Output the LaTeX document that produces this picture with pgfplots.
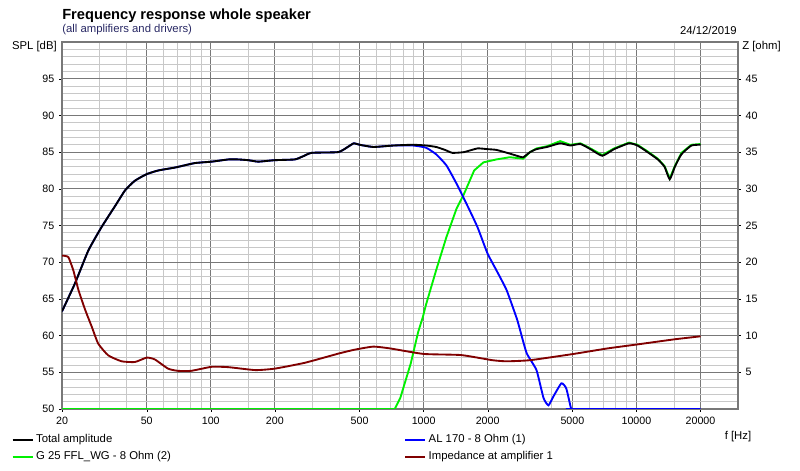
\documentclass[border=0pt]{standalone}
\usepackage{pgfplots}
\pgfplotsset{compat=1.18}
\usepackage{fontspec}
\setmainfont{Liberation Sans}
\definecolor{majgrid}{RGB}{120,120,120}
\definecolor{mingrid}{RGB}{200,200,200}
\definecolor{cgreen}{RGB}{0,240,0}
\definecolor{cblue}{RGB}{0,0,255}
\definecolor{cred}{RGB}{128,0,0}
\definecolor{subt}{RGB}{40,40,100}
\pgfplotsset{/pgf/number format/assume math mode=true}
\pgfplotsset{legend image code/.code={\draw[#1] (0pt,0pt) -- (15pt,0pt);}}
\begin{document}
\begin{tikzpicture}
\useasboundingbox (0,0) rectangle (600pt,353.25pt);
\begin{axis}[
  scale only axis, width=507pt, height=275.25pt,
  at={(46.5pt,46.5pt)}, anchor=south west,
  xmode=log, xmin=20, xmax=30000,
  ymin=50, ymax=100,
  tick label style={font=\fontsize{8}{9.6}\selectfont},
  tick align=outside, major tick length=2.25pt, minor tick length=0pt,
  ytick={50,55,...,95}, minor ytick={51,52,53,54,56,57,58,59,61,62,63,64,66,67,68,69,71,72,73,74,76,77,78,79,81,82,83,84,86,87,88,89,91,92,93,94,96,97,98,99},
  xtick={20,50,100,200,500,1000,2000,5000,10000,20000},
  xticklabels={20,50,100,200,500,1000,2000,5000,10000,20000},
  minor xtick={30,40,60,70,80,90,150,300,400,600,700,800,900,1500,3000,4000,6000,7000,8000,9000,15000},
  xtick pos=bottom, ytick pos=left,
  grid=both,
  major grid style={majgrid, line width=0.9pt},
  minor grid style={mingrid, line width=0.6pt},
  axis line style={majgrid, line width=0.9pt},
  tick style={black},
  legend columns=2, transpose legend,
  legend style={at={(-0.075,-0.062)}, anchor=north west, draw=none, fill=none,
    font=\fontsize{8.5}{10}\selectfont, inner sep=0pt, row sep=1pt,
    /tikz/every even column/.append style={column sep=173pt}},
  legend cell align=left,
]
\addplot[cgreen, line width=1.4pt, forget plot] coordinates {
(20,50) (732,50) (777,51.5) (870,56.2) (943,60.5) (991,62.5) (1026,64.2) (1145,68.9) (1279,73.4) (1428,77.3) (1548,79.3) (1728,82.5) (1910,83.6) (2198,84.0) (2537,84.3) (2935,84.1) (3164,85.0) (3391,85.5) (3800,85.8) (4384,86.5) (4892,86.0) (5455,86.2) (6082,85.5) (6909,84.6) (7847,85.5) (9226,86.3) (10107,86.0) (11276,85.1) (12603,84.1) (13552,83.1) (14330,81.4) (15152,83.1) (16265,84.9) (18130,86.0) (20000,86.1)
};
\addplot[cblue, line width=1.4pt, smooth, tension=0.3, forget plot] coordinates {
(20,63.3) (23,67.1) (26.6,71.6) (30.7,74.8) (35.6,77.7) (39.6,79.8) (44,81.1) (50,82.0) (56.7,82.5) (68,82.9) (84,83.5) (101,83.7) (121,84.0) (134,84.0) (150,83.9) (167,83.7) (200,83.9) (248,84.0) (270,84.4) (298,84.9) (397,85.0) (440,85.7) (470,86.2) (500,86.0) (581,85.7) (724,85.9) (889,85.9) (1026,85.6) (1145,84.7) (1279,83.2) (1428,80.7) (1594,77.9) (1790,74.8) (1996,71.2) (2198,68.9) (2454,66.2) (2742,62.3) (2843,60.7) (3050,57.6) (3391,55.3) (3660,51.5) (3860,50.5) (4070,51.7) (4440,53.5) (4680,52.8) (4925,50.1) (5000,50) (20000,50)
};
\addplot[black, line width=1.4pt, smooth, tension=0.3, forget plot] coordinates {
(20,63.3) (23,67.1) (26.6,71.6) (30.7,74.8) (35.6,77.7) (39.6,79.8) (44,81.1) (50,82.0) (56.7,82.5) (68,82.9) (84,83.5) (101,83.7) (121,84.0) (134,84.0) (150,83.9) (167,83.7) (200,83.9) (248,84.0) (270,84.4) (298,84.9) (397,85.0) (440,85.7) (470,86.2) (500,86.0) (581,85.7) (724,85.9) (889,86.0) (1026,85.9) (1145,85.7) (1260,85.3) (1365,84.9) (1548,85.0) (1790,85.5) (2000,85.4) (2198,85.3) (2537,84.8) (2742,84.5) (2935,84.3) (3164,85.0) (3391,85.4) (3800,85.7) (4384,86.2) (4892,85.9) (5455,86.1) (6082,85.4) (6909,84.5) (7847,85.4) (9226,86.2) (10107,85.9) (11276,85.0) (12603,84.0) (13552,83.0) (14330,81.3) (15152,83.0) (16265,84.7) (18130,85.9) (20000,86.0)
};
\addlegendimage{black, line width=1.4pt}
\addlegendentry{Total amplitude}
\addlegendimage{cgreen, line width=1.4pt}
\addlegendentry{G 25 FFL\_WG - 8 Ohm (2)}
\addlegendimage{cblue, line width=1.4pt}
\addlegendentry{AL 170 - 8 Ohm (1)}
\addlegendimage{cred, line width=1.4pt}
\addlegendentry{Impedance at amplifier 1}
\end{axis}
\begin{axis}[
  scale only axis, width=507pt, height=275.25pt,
  at={(46.5pt,46.5pt)}, anchor=south west,
  xmode=log, xmin=20, xmax=30000,
  ymin=0, ymax=50,
  tick label style={font=\fontsize{8}{9.6}\selectfont},
  tick align=outside, major tick length=2.25pt, minor tick length=0pt,
  axis y line*=right, axis x line=none,
  ytick={5,10,...,45},
  axis line style={majgrid, line width=0.9pt},
  tick style={black},
]
\addplot[cred, line width=1.4pt, smooth, tension=0.3] coordinates {
(20,20.9) (21.4,20.7) (22.6,18.9) (23.9,16.2) (25.7,13.5) (27.6,11.2) (29.6,8.9) (33,7.3) (38.1,6.5) (44,6.4) (50,7.0) (54.6,6.75) (63,5.5) (70,5.2) (81,5.2) (101,5.75) (121,5.7) (162,5.3) (200,5.5) (277,6.3) (404,7.6) (478,8.1) (581,8.5) (697,8.25) (1000,7.5) (1500,7.35) (2103,6.65) (2454,6.5) (3164,6.65) (5060,7.5) (7300,8.25) (10107,8.8) (15150,9.5) (20000,9.9)
};
\end{axis}
\node[anchor=west, inner sep=0pt, font=\bfseries\fontsize{11}{13}\selectfont] at (46.5pt,341.5pt) {Frequency response whole speaker};
\node[anchor=west, inner sep=0pt, font=\fontsize{8.5}{10}\selectfont, text=subt] at (46.5pt,330.75pt) {(all amplifiers and drivers)};
\node[anchor=east, inner sep=0pt, font=\fontsize{8.5}{10}\selectfont] at (552.75pt,330.75pt) {24/12/2019};
\node[anchor=east, inner sep=0pt, font=\fontsize{8.5}{10}\selectfont] at (42.75pt,318pt) {SPL [dB]};
\node[anchor=west, inner sep=0pt, font=\fontsize{8.5}{10}\selectfont] at (556.5pt,318pt) {Z [ohm]};
\node[anchor=center, inner sep=0pt, font=\fontsize{8.5}{10}\selectfont] at (553.5pt,25.5pt) {f [Hz]};
\end{tikzpicture}
\end{document}
